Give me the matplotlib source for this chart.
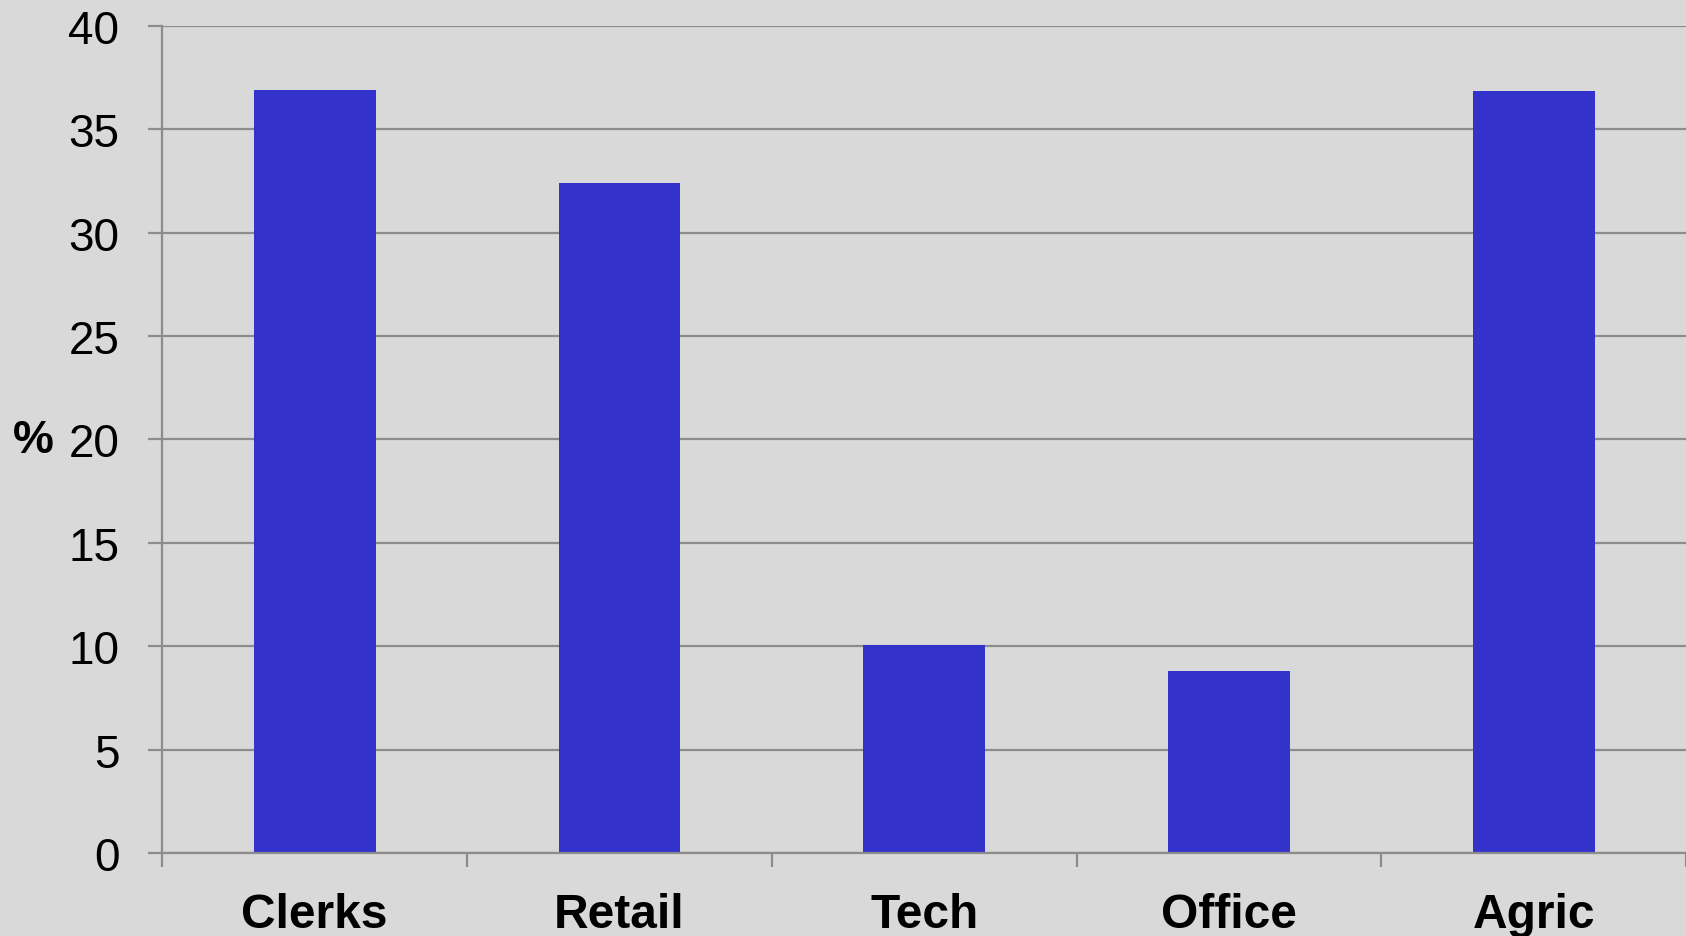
import matplotlib
matplotlib.use("Agg")
import matplotlib.pyplot as plt
import numpy as np

categories = ["Clerks", "Retail", "Tech", "Office", "Agric"]
values = [36.9, 32.4, 10.05, 8.8, 36.85]
y_ticks = [0, 5, 10, 15, 20, 25, 30, 35, 40]

bg = "#d9d9d9"
grid_col = "#8c8c8c"
bar_col = "#3333cc"

plt.rcParams['font.family'] = ['Liberation Sans', 'DejaVu Sans']

fig = plt.figure(figsize=(16.86, 9.37), dpi=100, facecolor=bg)
ax = fig.add_axes([0.0963, 0.0886, 0.9037, 0.8829])
ax.set_facecolor(bg)

x = np.arange(len(categories))
ax.bar(x, values, width=0.4, color=bar_col, zorder=3)

ax.set_xlim(-0.5, len(categories) - 0.5)
ax.set_ylim(0, 40)
ax.set_yticks(y_ticks)
ax.set_yticklabels([str(t) for t in y_ticks], fontsize=33)
ax.yaxis.grid(True, color=grid_col, linewidth=1.6, zorder=0)
ax.tick_params(axis='y', length=10, width=1.6, color=grid_col, pad=21)

# category labels sit between the boundary ticks
ax.set_xticks(np.arange(len(categories) + 1) - 0.5)
ax.set_xticklabels([])
ax.set_xticks(x, minor=True)
ax.set_xticklabels(categories, minor=True, fontsize=34.5, fontweight='bold')
ax.tick_params(axis='x', which='major', length=10, width=1.6, color=grid_col)
ax.tick_params(axis='x', which='minor', length=0, pad=28)

for s in ['top', 'right']:
    ax.spines[s].set_visible(False)
for s in ['left', 'bottom']:
    ax.spines[s].set_color(grid_col)
    ax.spines[s].set_linewidth(1.6)
    ax.spines[s].set_zorder(4)

fig.text(33 / 1686, 1 - 441 / 937, "%", fontsize=33, fontweight='bold',
         ha='center', va='center')

fig.savefig("out.png", dpi=100, facecolor=bg)
